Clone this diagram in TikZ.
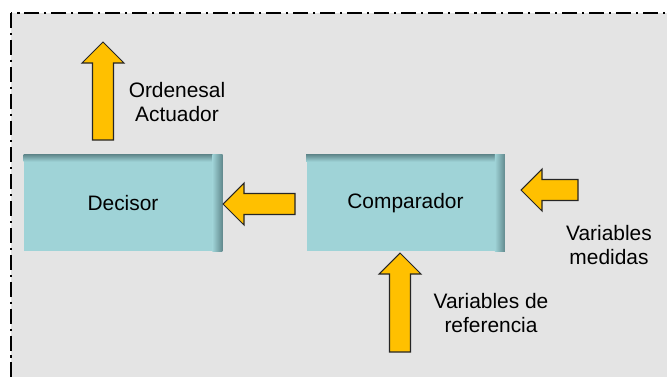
\documentclass[tikz,border=0pt]{standalone}
\usepackage{fontspec}
\setmainfont{Liberation Sans}
\definecolor{panelgray}{HTML}{E4E4E4}
\definecolor{boxteal}{HTML}{9FD3D7}
\definecolor{boxshade}{HTML}{628A8E}
\definecolor{arrowgold}{HTML}{FFC000}
\tikzset{
  box/.style={fill=boxteal, minimum width=3.96cm, minimum height=1.92cm, inner sep=0pt},
  label/.style={align=center, inner sep=0pt, font=\fontsize{11.9}{13.4}\selectfont},
  arrowfill/.style={fill=arrowgold, draw=black!85, line width=0.6pt, line join=miter},
  pics/blockarrow/.style={code={
    \filldraw[arrowfill] (0,0) -- (21,21) -- (21,10.5) -- (#1,10.5)
      -- (#1,-10.5) -- (21,-10.5) -- (21,-21) -- cycle;}}
}
\begin{document}
\begin{tikzpicture}[x=0.02cm, y=-0.02cm]
  % Fix the size and clip the frame
  \useasboundingbox (0,0) rectangle (667,376);
  \clip (0,0) rectangle (667,376);
  \fill[white] (0,0) rectangle (667,376);

  % Grey panel with dash-dot frame
  \filldraw[fill=panelgray, draw=black, line width=0.85pt,
    dash pattern=on 8.5pt off 2.8pt on 1.2pt off 2.8pt] (11,13) rectangle (700,400);

  % The two blocks
  \node[box] (decisor) at (123,203) {};
  \node[box] (comparador) at (405.5,203) {};
  \foreach \b in {decisor, comparador} {
    \shade[top color=boxshade, bottom color=boxteal]
      (\b.north west) rectangle ([yshift=-0.14cm]\b.north east);
    \shade[left color=boxteal, right color=boxshade]
      ([xshift=-0.2cm]\b.north east) rectangle (\b.south east);
  }
  \node[label] at (decisor.center) {Decisor};
  \node[label] at (comparador.center) {Comparador};

  % Block arrows
  \pic[rotate=-90] at (103,42) {blockarrow=98};
  \pic at (223,204) {blockarrow=72};
  \pic at (521,190) {blockarrow=57};
  \pic[rotate=-90] at (400,253) {blockarrow=99};

  % Texts
  \node[label] (ordenes) at (177,102) {Ordenesal\\Actuador};
  \node[label] (medidas) at (609,245) {Variables\\medidas};
  \node[label] (referencia) at (491,313) {Variables de\\referencia};
\end{tikzpicture}
\end{document}
